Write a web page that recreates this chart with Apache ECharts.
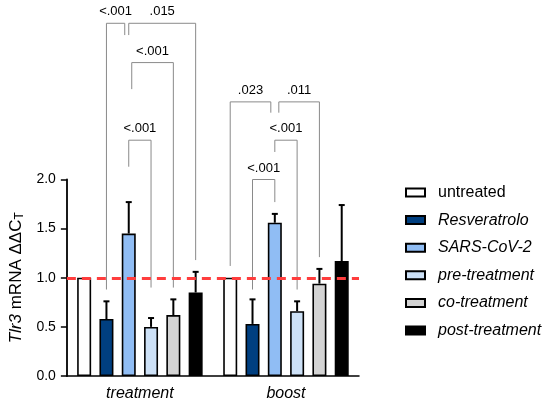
<!DOCTYPE html>
<html>
<head>
<meta charset="utf-8">
<script src="https://cdn.jsdelivr.net/npm/echarts@6/dist/echarts.min.js"></script>
<style>html,body{margin:0;padding:0;background:#fff}#c{width:555px;height:405px}</style>
</head>
<body>
<div id="c"></div>
<script>
// ---- data ----
var categories = ['treatment', 'boost'];
var seriesNames = ['untreated', 'Resveratrolo', 'SARS-CoV-2', 'pre-treatment', 'co-treatment', 'post-treatment'];
var untreated      = [1.00, 1.00];
var resveratrolo   = [0.58, 0.53];
var sarsCov2       = [1.45, 1.56];
var preTreatment   = [0.50, 0.66];
var coTreatment    = [0.62, 0.94];
var postTreatment  = [0.85, 1.17];
// upper end of error bars (mean + SD)
var untreatedErr   = [1.00, 1.00];
var resveratroloErr= [0.76, 0.78];
var sarsCov2Err    = [1.77, 1.65];
var preTreatmentErr= [0.59, 0.76];
var coTreatmentErr = [0.78, 1.09];
var postTreatmentErr=[1.06, 1.74];
var yTicks = [0, 0.5, 1.0, 1.5, 2.0];
// significance brackets: [category, fromBar, toBar, topY, fromLegEndY, toLegEndY, label]
var brackets = [
  [0, 1, 2, 3.59, 0.88, 3.47, '<.001'],
  [0, 2, 5, 3.59, 3.47, 1.18, '.015'],
  [0, 2, 4, 3.19, 2.92, 0.90, '<.001'],
  [0, 2, 3, 2.40, 2.13, 0.90, '<.001'],
  [1, 0, 2, 2.79, 1.12, 2.68, '.023'],
  [1, 2, 4, 2.79, 2.68, 1.21, '.011'],
  [1, 2, 3, 2.40, 2.28, 0.88, '<.001'],
  [1, 1, 2, 2.00, 0.88, 1.77, '<.001']
];

// ---- styling ----
var FONT = "'Liberation Sans', Arial, sans-serif";
var colors = ['#ffffff', '#003f80', '#90bdf4', '#cde1f7', '#d3d3d3', '#000000'];
var italic = [false, true, true, true, true, true];
// horizontal leg nudges (px) so that shared legs do not overlap: [fromNudge, toNudge]
var legNudge = [[0,-4],[0,0],[3,0],[0,0],[0,-4],[4,0],[0,0],[0,0]];
var BAR_W = 14, GAP_PX = 8.3;
var STEP = BAR_W + GAP_PX;

var means = [untreated, resveratrolo, sarsCov2, preTreatment, coTreatment, postTreatment];
var errs = [untreatedErr, resveratroloErr, sarsCov2Err, preTreatmentErr, coTreatmentErr, postTreatmentErr];

var errData = [];
for (var s = 0; s < means.length; s++) {
  for (var c = 0; c < categories.length; c++) {
    if (errs[s][c] > means[s][c]) errData.push([c, s, means[s][c], errs[s][c]]);
  }
}
function barX(api, cat, bar) {
  return api.coord([cat, 0])[0] + (bar - (means.length - 1) / 2) * STEP;
}

var series = [];
for (var i = 0; i < seriesNames.length; i++) {
  var ser = {
    name: seriesNames[i], type: 'bar', data: means[i],
    barWidth: BAR_W, barGap: (GAP_PX / BAR_W * 100) + '%',
    itemStyle: { color: colors[i], borderColor: '#000', borderWidth: 1.6 },
    z: 2
  };
  if (i === 0) {
    ser.markLine = {
      silent: true, symbol: 'none', label: { show: false }, z: 5,
      lineStyle: { color: '#ff3d3d', type: [9, 6], width: 3 },
      data: [{ yAxis: 1 }]
    };
  }
  series.push(ser);
}
series.push({
  type: 'custom', data: errData, z: 3, silent: true,
  encode: { x: 0, y: 3 },
  renderItem: function (params, api) {
    var cat = api.value(0), bar = api.value(1);
    var x = barX(api, cat, bar);
    var y0 = api.coord([cat, api.value(2)])[1];
    var y1 = api.coord([cat, api.value(3)])[1];
    var st = { stroke: '#000', lineWidth: 2 };
    return { type: 'group', children: [
      { type: 'line', shape: { x1: x, y1: y0, x2: x, y2: y1 }, style: st },
      { type: 'line', shape: { x1: x - 3, y1: y1, x2: x + 3, y2: y1 }, style: st }
    ]};
  }
});
series.push({
  type: 'custom', data: brackets.map(function (b, k) { return [b[0], b[1], b[2], b[3], b[4], b[5], k]; }),
  z: 4, silent: true, clip: false,
  encode: { x: 0, y: 3 },
  renderItem: function (params, api) {
    var cat = api.value(0), k = api.value(6);
    var n = legNudge[k];
    var xa = barX(api, cat, api.value(1)) + n[0];
    var xb = barX(api, cat, api.value(2)) + n[1];
    var yt = api.coord([cat, api.value(3)])[1];
    var ya = api.coord([cat, api.value(4)])[1];
    var yb = api.coord([cat, api.value(5)])[1];
    return { type: 'group', children: [
      { type: 'polyline', shape: { points: [[xa, ya], [xa, yt], [xb, yt], [xb, yb]] },
        style: { stroke: '#8a8a8a', lineWidth: 1, fill: null } },
      { type: 'text', style: { text: brackets[k][6], x: (xa + xb) / 2, y: yt - 5,
        align: 'center', verticalAlign: 'bottom', fill: '#000', font: '13px ' + FONT } }
    ]};
  }
});

var legendData = seriesNames.map(function (n, i) {
  return { name: n, textStyle: { fontStyle: italic[i] ? 'italic' : 'normal' } };
});

var chart = echarts.init(document.getElementById('c'), null, { renderer: 'canvas' });
chart.setOption({
  animation: false,
  backgroundColor: '#fff',
  textStyle: { fontFamily: FONT },
  grid: { left: 62.5, right: 196, top: 179.5, bottom: 29 },
  legend: {
    orient: 'vertical', left: 400, top: 179.5, icon: 'rect',
    itemWidth: 19, itemHeight: 8, itemGap: 11.6,
    data: legendData,
    textStyle: { fontSize: 16, color: '#000', fontFamily: FONT, padding: [0, 0, 0, 8] }
  },
  xAxis: {
    type: 'category', data: categories,
    axisLine: { lineStyle: { color: '#000', width: 1.5 } },
    axisTick: { alignWithLabel: true, length: 5, lineStyle: { color: '#000', width: 1.5 } },
    axisLabel: { fontSize: 16, fontStyle: 'italic', color: '#000', margin: 10, fontFamily: FONT }
  },
  yAxis: {
    type: 'value', min: yTicks[0], max: yTicks[yTicks.length - 1], interval: yTicks[1] - yTicks[0],
    splitLine: { show: false },
    axisLine: { show: true, lineStyle: { color: '#000', width: 1.8 } },
    axisTick: { show: true, length: 6, lineStyle: { color: '#000', width: 1.5 } },
    axisLabel: { fontSize: 14, color: '#000', margin: 11, fontFamily: FONT,
      formatter: function (v) { return v.toFixed(1); } },
    name: '{i|Tlr3} mRNA ΔΔC{s|T}',
    nameLocation: 'middle', nameGap: 25, nameRotate: 90,
    nameTextStyle: {
      fontSize: 17, color: '#000', fontFamily: FONT,
      rich: {
        i: { fontSize: 17, fontStyle: 'italic', fontFamily: FONT, color: '#000' },
        s: { fontSize: 12, fontFamily: FONT, color: '#000', verticalAlign: 'bottom', padding: [6, 0, 0, 0] }
      }
    }
  },
  series: series
});
</script>
</body>
</html>
